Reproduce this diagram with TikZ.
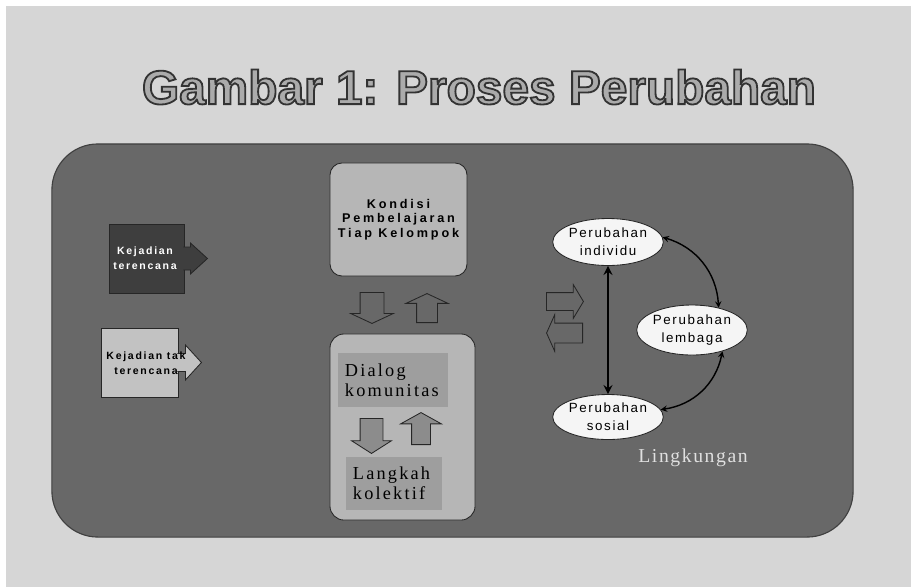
\documentclass[tikz,border=0pt]{standalone}
\usepackage{fontspec}
\setmainfont{Liberation Serif}
\setsansfont{Liberation Sans}
\usetikzlibrary{shapes.geometric,shapes.arrows,calc}
\definecolor{latar}{HTML}{D6D6D6}
\definecolor{panel}{HTML}{686868}
\definecolor{gelap}{HTML}{3E3E3E}
\definecolor{terang}{HTML}{C2C2C2}
\definecolor{kotak}{HTML}{B6B6B6}
\definecolor{dalam}{HTML}{9E9E9E}
\definecolor{judulisi}{HTML}{ABABAB}
\definecolor{panah}{HTML}{8C8C8C}
\newcommand{\garisluar}[1]{\special{pdf:literal direct 2 Tr 1.3 w 0.2 G}#1\special{pdf:literal direct 0 Tr}}
\begin{document}
\begin{tikzpicture}[x=0.025cm,y=-0.025cm]
        \tikzstyle{judul} = [inner sep=0pt, font=\sffamily\bfseries\fontsize{34}{36}\selectfont]
        \tikzstyle{kej} = [rectangle, minimum height=1.725cm, draw=black!85, line width=0.6pt, inner sep=0pt]
        \tikzstyle{kejteks} = [align=center, inner sep=0pt, font=\sffamily\bfseries\fontsize{7.5}{10.5}\selectfont\addfontfeature{LetterSpace=16}]
        \tikzstyle{proc} = [rectangle, rounded corners=0.3cm, draw=black!85, line width=0.6pt, fill=kotak]
        \tikzstyle{isi} = [rectangle, fill=dalam, align=left, inner xsep=0.175cm, font=\fontsize{13}{14.5}\selectfont\addfontfeature{LetterSpace=12}]
        \tikzstyle{blok} = [single arrow, draw=black!85, fill=panel, line width=0.6pt, inner xsep=0pt, single arrow head indent=0pt]
        \tikzstyle{elips} = [ellipse, draw=black!85, fill=white!96!black, line width=0.6pt, inner sep=0pt, align=center, font=\sffamily\fontsize{9.5}{12.5}\selectfont\addfontfeature{LetterSpace=12}]
        \tikzstyle{arrow} = [line width=1pt,<->,>=stealth]
        % latar dan panel
        \useasboundingbox (0,0) rectangle (911,587);
        \fill[latar] (6,6) rectangle (911,587);
        \node (panel) [rectangle, rounded corners=1.15cm, minimum width=20.025cm, minimum height=9.825cm, fill=panel, draw=black!75, line width=0.8pt] at (452.5,340.5) {};
        % judul
        \node (judul) [judul, text=judulisi] at (479,87) {\garisluar{Gambar 1: Proses Perubahan}};
        % kejadian
        \node (kej1) [kej, minimum width=1.875cm, fill=gelap] at (146.5,258.5) {};
        \draw[fill=gelap, draw=black!85, line width=0.6pt] ($(kej1.east)+(-1,-11.5)$) -- ++(7,0) -- ++(0,-4) -- ++(17,15.5) -- ++(-17,15.5) -- ++(0,-4) -- ++(-7,0);
        \node (kej1t) [kejteks, text=white] at (145,258) {Kejadian\\terencana};
        \node (kej2) [kej, minimum width=1.925cm, fill=terang] at (139.5,362.5) {};
        \draw[fill=terang, draw=black!85, line width=0.6pt] ($(kej2.east)+(-1,-9)$) -- ++(8,0) -- ++(0,-8.5) -- ++(16,17.5) -- ++(-16,17.5) -- ++(0,-8.5) -- ++(-8,0);
        \node (kej2t) [kejteks, text=black] at (146,363) {Kejadian tak\\terencana};
        % tengah
        \node (kondisi) [proc, minimum width=3.425cm, minimum height=2.825cm, align=center, font=\sffamily\bfseries\fontsize{9}{10.5}\selectfont\addfontfeature{LetterSpace=22}] at (398.5,219.5) {Kondisi\\Pembelajaran\\Tiap Kelompok};
        \node (turun) [blok, anchor=tail, rotate=-90, minimum height=0.775cm, inner ysep=0.2875cm, single arrow head extend=0.2375cm, single arrow tip angle=130] at (372,292) {};
        \node (naik) [blok, anchor=tail, rotate=90, minimum height=0.725cm, inner ysep=0.25cm, single arrow head extend=0.2625cm, single arrow tip angle=130] at (427,323) {};
        \node (proses) [proc, rounded corners=0.35cm, minimum width=3.625cm, minimum height=4.65cm] at (402.5,427) {};
        \node (dialog) [isi, text width=2.4cm, minimum height=1.35cm] at (393,380) {Dialog\\komunitas};
        \node (langkah) [isi, text width=2.05cm, minimum height=1.325cm] at (394,483.5) {Langkah\\kolektif};
        \node (turun2) [blok, fill=panah, anchor=tail, rotate=-90, minimum height=0.875cm, inner ysep=0.275cm, single arrow head extend=0.2125cm, single arrow tip angle=115] at (371.5,418) {};
        \node (naik2) [blok, fill=panah, anchor=tail, rotate=90, minimum height=0.8cm, inner ysep=0.225cm, single arrow head extend=0.275cm, single arrow tip angle=122] at (421,445) {};
        % perubahan
        \node (kanan) [blok, anchor=tail, minimum height=0.925cm, inner ysep=0.2125cm, single arrow head extend=0.2cm, single arrow tip angle=118] at (546,301.5) {};
        \node (kiri) [blok, anchor=tail, rotate=180, minimum height=0.9cm, inner ysep=0.2375cm, single arrow head extend=0.2125cm, single arrow tip angle=132] at (583,333) {};
        \node (ind) [elips, minimum width=2.325cm, minimum height=1.175cm] at (608,242) {Perubahan\\individu};
        \node (lem) [elips, minimum width=2.5cm, minimum height=1.25cm] at (692,330) {Perubahan\\lembaga};
        \node (sos) [elips, minimum width=2.425cm, minimum height=1.125cm] at (608,417) {Perubahan\\sosial};
        \draw[arrow, line width=1.8pt] (ind) to (sos);
        \draw[arrow] (ind.5) to[bend left=35] (lem.40);
        \draw[arrow] (lem.-35) to[bend left=35] (sos.8);
        \node (ling) [text=white!88!black, font=\fontsize{14}{16}\selectfont\addfontfeature{LetterSpace=8}] at (693,458) {Lingkungan};
\end{tikzpicture}
\end{document}
